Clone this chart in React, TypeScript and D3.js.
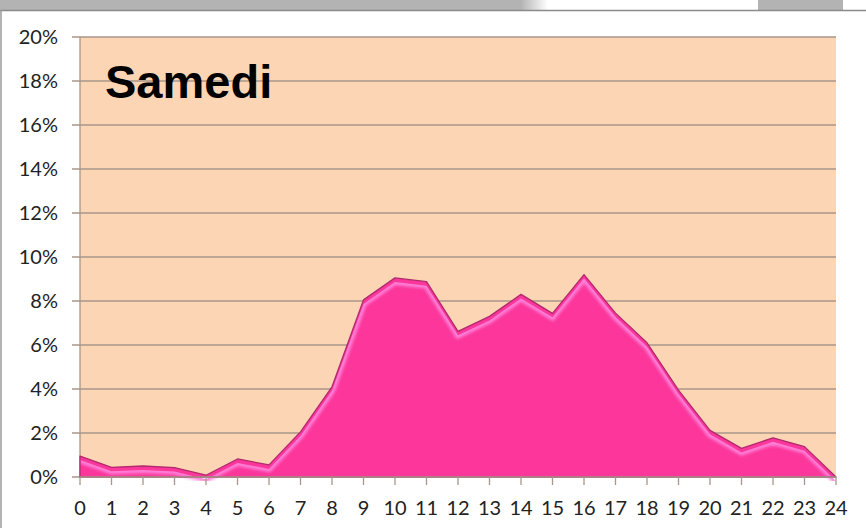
import React, { useEffect, useRef } from 'react';
import * as d3 from 'd3';

// hours of the day (0..24) and share of visits (%)
const hours = [0,1,2,3,4,5,6,7,8,9,10,11,12,13,14,15,16,17,18,19,20,21,22,23,24];
const share = [0.95,0.44,0.5,0.43,0.08,0.82,0.55,2.05,4.1,8.05,9.05,8.88,6.62,7.3,8.3,7.44,9.2,7.45,6.1,3.95,2.12,1.3,1.78,1.38,0];
const yTicks = [0,2,4,6,8,10,12,14,16,18,20];
const title = 'Samedi';

const W = 866;
const H = 528;

export default function App() {
  const ref = useRef<SVGSVGElement>(null);

  useEffect(() => {
    const svg = d3.select(ref.current);
    svg.selectAll('*').remove();

    const left = 80, right = 836, top = 37, bottom = 477;
    const x = d3.scaleLinear().domain([0, 24]).range([left, right]);
    const y = d3.scaleLinear().domain([0, 20]).range([bottom, top]);
    const font = 'Lato, "Open Sans", sans-serif';

    const defs = svg.append('defs');
    const fade = defs.append('linearGradient').attr('id', 'fade').attr('x1', 0).attr('x2', 1);
    fade.append('stop').attr('offset', '0.95').attr('stop-color', '#b3b3b3');
    fade.append('stop').attr('offset', '1').attr('stop-color', '#ffffff');
    defs.append('filter').attr('id', 'blur').append('feGaussianBlur').attr('stdDeviation', 1.6);

    // window frame bits
    svg.append('rect').attr('x', 0).attr('y', 0).attr('width', 548).attr('height', 10).attr('fill', 'url(#fade)');
    svg.append('rect').attr('x', 758).attr('y', 0).attr('width', 85).attr('height', 10).attr('fill', '#b3b3b3');
    svg.append('line').attr('x1', 0).attr('x2', W).attr('y1', 10.5).attr('y2', 10.5).attr('stroke', '#8a8a8a').attr('stroke-width', 1.5);
    svg.append('line').attr('x1', 1).attr('x2', 1).attr('y1', 10).attr('y2', H).attr('stroke', '#9a9a9a').attr('stroke-width', 1.5);

    // plot area
    svg.append('rect').attr('x', left).attr('y', top).attr('width', right - left).attr('height', bottom - top)
      .attr('fill', '#fcd5b5');

    svg.append('g').selectAll('line').data(yTicks).enter().append('line')
      .attr('x1', left - 8).attr('x2', right)
      .attr('y1', d => y(d)).attr('y2', d => y(d))
      .attr('stroke', '#a8968a').attr('stroke-width', 1.3);

    svg.append('line').attr('x1', left).attr('x2', left).attr('y1', top).attr('y2', bottom)
      .attr('stroke', '#a8968a').attr('stroke-width', 1.3);

    svg.append('g').selectAll('text').data(yTicks).enter().append('text')
      .attr('x', 58).attr('y', d => y(d)).attr('dy', '0.35em')
      .attr('text-anchor', 'end')
      .attr('font-family', font).attr('font-size', 20).attr('fill', '#222')
      .text(d => d + '%');

    // area
    const pts = hours.map((h, i) => [h, share[i]] as [number, number]);
    const area = d3.area<[number, number]>().x(d => x(d[0])).y0(y(0)).y1(d => y(d[1]));
    const line = d3.line<[number, number]>().x(d => x(d[0])).y(d => y(d[1]));

    defs.append('clipPath').attr('id', 'areaClip').append('path').attr('d', area(pts));

    svg.append('path').attr('d', area(pts)).attr('fill', '#fc369b');
    svg.append('path').attr('d', line(pts)).attr('transform', 'translate(0,4)')
      .attr('fill', 'none').attr('stroke', '#ff80d8').attr('stroke-width', 6)
      .attr('filter', 'url(#blur)').attr('clip-path', 'url(#areaClip)');
    svg.append('path').attr('d', area(pts)).attr('fill', 'none')
      .attr('stroke', '#b02a6c').attr('stroke-width', 1.3).attr('stroke-linejoin', 'round');

    // x axis
    svg.append('line').attr('x1', left).attr('x2', right).attr('y1', bottom).attr('y2', bottom)
      .attr('stroke', '#a8968a').attr('stroke-width', 1.3);
    svg.append('g').selectAll('line').data(hours).enter().append('line')
      .attr('x1', d => x(d)).attr('x2', d => x(d)).attr('y1', bottom).attr('y2', bottom + 8)
      .attr('stroke', '#a8968a').attr('stroke-width', 1.3);
    svg.append('g').selectAll('text').data(hours).enter().append('text')
      .attr('x', d => x(d)).attr('y', 508).attr('dy', '0.35em')
      .attr('text-anchor', 'middle')
      .attr('font-family', font).attr('font-size', 20).attr('fill', '#222')
      .text(d => String(d));

    svg.append('text').attr('x', 105).attr('y', 98)
      .attr('font-family', '"Liberation Sans", Arial, sans-serif').attr('font-weight', 'bold')
      .attr('font-size', 47).attr('fill', '#000')
      .text(title);
  }, []);

  return (
    <div style={{ position: 'absolute', left: 0, top: 0 }}>
      <svg ref={ref} width={W} height={H} style={{ display: 'block', background: '#fff' }} />
    </div>
  );
}
